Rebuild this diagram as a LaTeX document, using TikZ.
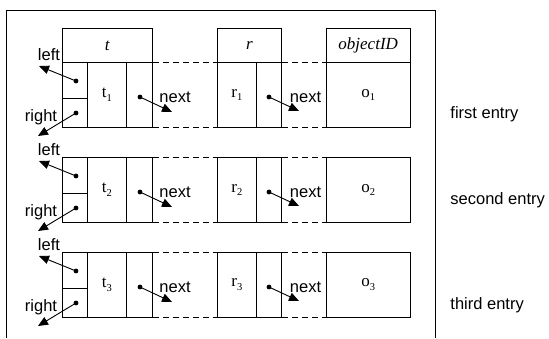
\documentclass[tikz,border=0pt]{standalone}
\usepackage{fontspec}
\setmainfont{Liberation Serif}
\newfontfamily\arialf{Liberation Sans}
\usetikzlibrary{arrows.meta}
\newcommand\sbs[1]{\raisebox{-0.5ex}{\fontsize{10.5}{10.5}\selectfont #1}}
\begin{document}
\begin{tikzpicture}[x=1pt,y=-1pt, line width=0.9pt,
  cell/.style={draw, inner sep=0pt, anchor=north west},
  lbl/.style={font=\arialf\fontsize{16.5}{18}\selectfont, inner sep=0pt},
  val/.style={font=\fontsize{17}{18}\selectfont, inner sep=0pt},
  ptr/.style={-{Triangle[length=10pt,width=8.5pt]}},
  dashline/.style={dash pattern=on 6pt off 4pt},
]
\useasboundingbox (0,0) rectangle (549,338);
% outer frame
\draw (6,338) -- (6,10) -- (435,10) -- (435,338);
% headers
\node[cell, val, minimum width=90pt, minimum height=34pt] (th) at (62,28) {\textit{t}};
\node[cell, val, minimum width=64pt, minimum height=34pt] (rh) at (217,28) {\textit{r}};
\node[cell, val, minimum width=84.5pt, minimum height=34pt] (oh) at (325.5,28) {\textit{objectID}};
\foreach \i/\y in {1/62,2/157,3/252}{
  \node[cell, minimum width=25pt, minimum height=35.5pt] (lp\i) at (62,\y) {};
  \node[cell, minimum width=25pt, minimum height=29.5pt] (rp\i) at (62,\y+35.5) {};
  \node[cell, val, minimum width=39pt, minimum height=65pt] (t\i) at (87,\y) {t\sbs{\i}};
  \node[cell, minimum width=26pt, minimum height=65pt] (n\i) at (126,\y) {};
  \node[cell, val, minimum width=39pt, minimum height=65pt] (r\i) at (217,\y) {r\sbs{\i}};
  \node[cell, minimum width=25pt, minimum height=65pt] (rn\i) at (256,\y) {};
  \node[cell, val, minimum width=84.5pt, minimum height=65pt] (o\i) at (325.5,\y) {o\sbs{\i}};
  \draw[dashline] (n\i.north east) -- (r\i.north west);
  \draw[dashline] (n\i.south east) -- (r\i.south west);
  \draw[dashline] (rn\i.north east) -- (o\i.north west);
  \draw[dashline] (rn\i.south east) -- (o\i.south west);
  % pointers
  \coordinate (ld\i) at (76,\y+19);
  \coordinate (le\i) at (39,\y+4);
  \coordinate (rd\i) at (76,\y+51);
  \coordinate (re\i) at (38,\y+74);
  \coordinate (nd\i) at (140,\y+35);
  \coordinate (ne\i) at (172,\y+50);
  \coordinate (rnd\i) at (269,\y+35);
  \coordinate (rne\i) at (299,\y+49);
  \foreach \a/\b in {ld/le,rd/re,nd/ne,rnd/rne}{
    \fill (\a\i) circle (2.4pt);
    \draw[ptr] (\a\i) -- (\b\i);
  }
  \node[lbl] (llab\i) at (49,\y-7) {left};
  \node[lbl] (rlab\i) at (41,\y+55) {right};
  \node[lbl] (nlab\i) at (175,\y+35) {next};
  \node[lbl] (rnlab\i) at (305.5,\y+35) {next};
}
\node[lbl, anchor=west] (e1) at (450,114) {first entry};
\node[lbl, anchor=west] (e2) at (450,200) {second entry};
\node[lbl, anchor=west] (e3) at (450,305) {third entry};
\end{tikzpicture}
\end{document}
